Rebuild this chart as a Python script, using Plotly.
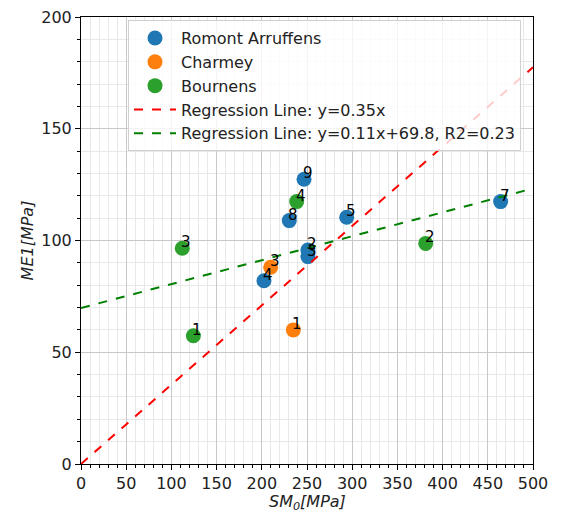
import plotly.graph_objects as go

# Data
ra_x = [251, 251, 202.4, 293.9, 464.2, 230.4, 246.7]
ra_y = [95.7, 92.8, 82.0, 110.4, 117.4, 108.9, 127.4]
ra_lbl = ["2", "3", "4", "5", "7", "8", "9"]

ch_x = [234.9, 209.8]
ch_y = [60.0, 88.0]
ch_lbl = ["1", "3"]

bo_x = [124.3, 381.3, 112.0, 238.6]
bo_y = [57.4, 98.7, 96.5, 117.4]
bo_lbl = ["1", "2", "3", "4"]

reg1_slope = 0.355
reg2_slope, reg2_icpt = 0.107, 69.8
line_x = [0, 500]

x_title = "<i>SM<sub>0</sub>[MPa]</i>"
y_title = "<i>ME1[MPa]</i>"

fig = go.Figure()
series = [
    ("Romont Arruffens", ra_x, ra_y, ra_lbl, "#1f77b4"),
    ("Charmey", ch_x, ch_y, ch_lbl, "#ff7f0e"),
    ("Bournens", bo_x, bo_y, bo_lbl, "#2ca02c"),
]
for i, (name, xs, ys, lb, c) in enumerate(series):
    fig.add_trace(go.Scatter(x=xs, y=ys, mode="markers", name=name,
                             legendgroup=f"g{i}",
                             marker=dict(size=15, color=c)))

fig.add_trace(go.Scatter(x=line_x, y=[reg1_slope * v for v in line_x], mode="lines",
                         name="Regression Line: y=0.35x", legendgroup="g3",
                         line=dict(color="red", dash="dash", width=2)))
fig.add_trace(go.Scatter(x=line_x, y=[reg2_slope * v + reg2_icpt for v in line_x], mode="lines",
                         name="Regression Line: y=0.11x+69.8, R2=0.23", legendgroup="g4",
                         line=dict(color="green", dash="dash", width=2)))

for name, xs, ys, lb, c in series:
    for xv, yv, t in zip(xs, ys, lb):
        fig.add_annotation(x=xv, y=yv, text=t, showarrow=False, xanchor="left",
                           yanchor="bottom", xshift=-3, yshift=-5,
                           font=dict(size=15, color="black"))

fig.add_annotation(x=0.5, y=0, xref="paper", yref="paper", text=x_title,
                   showarrow=False, xanchor="center", yanchor="middle", yshift=-38,
                   font=dict(size=16, color="#222"))

axis_common = dict(
    showline=True, linecolor="black", linewidth=1, mirror=True,
    ticks="outside", ticklen=5, tickcolor="black",
    showgrid=True, gridcolor="#c8c8c8", gridwidth=1,
    zeroline=False, automargin=False,
    tickfont=dict(size=16, color="#222"),
    minor=dict(dtick=10, showgrid=True, gridcolor="#e8e8e8", gridwidth=1,
               ticks="outside", ticklen=3, tickcolor="black"),
)
fig.update_xaxes(range=[0, 500], dtick=50, tick0=0, **axis_common)
fig.update_yaxes(range=[0, 200], dtick=50, tick0=0,
                 title=dict(text=y_title, font=dict(size=16), standoff=3),
                 **axis_common)

fig.update_layout(
    width=561, height=512,
    margin=dict(l=81, r=28, t=17, b=48),
    paper_bgcolor="white", plot_bgcolor="white",
    font=dict(family="DejaVu Sans", size=16, color="#222"),
    showlegend=True,
    legend=dict(x=0.104, y=0.993, xanchor="left", yanchor="top",
                bgcolor="rgba(255,255,255,0.8)", bordercolor="#d0d0d0", borderwidth=1,
                font=dict(size=16), traceorder="grouped", tracegroupgap=0,
                itemsizing="trace", itemwidth=42),
)

fig.write_html("out.html")
